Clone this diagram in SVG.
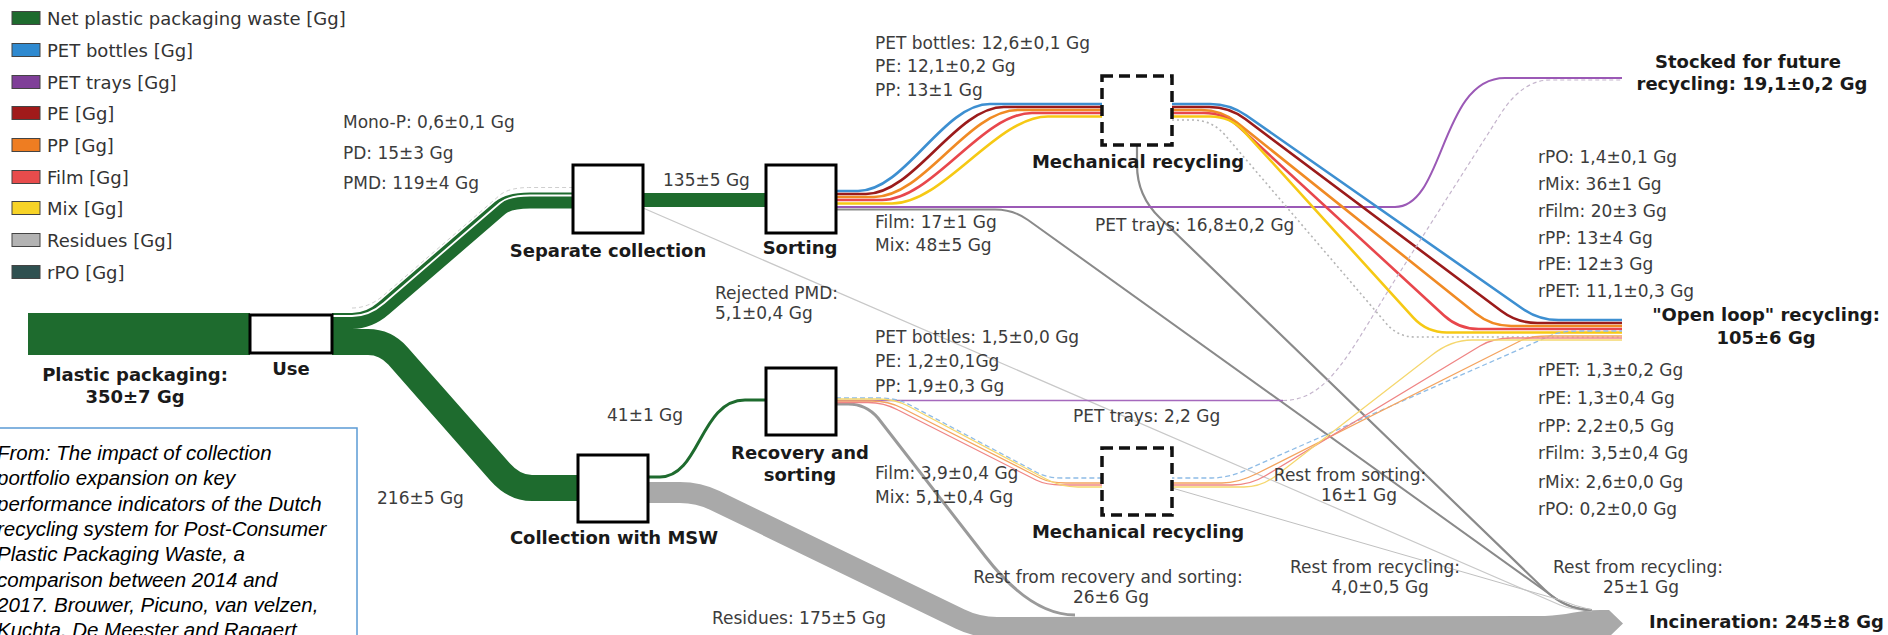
<svg xmlns="http://www.w3.org/2000/svg" width="1888" height="635" viewBox="0 0 1888 635">
<defs>
<style>
text{font-family:"DejaVu Sans",Verdana,"Liberation Sans",sans-serif}
.leg{font-size:18px;fill:#333}
.lbl{font-size:17px;fill:#3c3c3c}
.m{text-anchor:middle}
.b{font-size:18px;font-weight:bold;fill:#1a1a1a;text-anchor:middle}
.cite{font-family:"Liberation Sans",Arial,sans-serif;font-size:20.5px;font-style:italic;fill:#000}
.box{fill:#fff;stroke:#000;stroke-width:3}
.dbox{fill:#fff;stroke:#111;stroke-width:3.5;stroke-dasharray:11 6}
.sw{stroke:#444;stroke-width:1}
.f{fill:none;stroke-linecap:butt}
.gr{stroke:#1e6b2e}
.c{fill:none;stroke-width:2.6}
.rest{fill:none;stroke:#8a8a8a}
.pale{fill:none;stroke-width:1.3}
</style>
</defs>

<g id="legend">
<rect class="sw" x="12" y="11.5" width="28" height="13" fill="#1e6b2e"/><text class="leg" x="47" y="24.5">Net plastic packaging waste [Gg]</text>
<rect class="sw" x="12" y="43.5" width="28" height="13" fill="#2f8ad0"/><text class="leg" x="47" y="56.5">PET bottles [Gg]</text>
<rect class="sw" x="12" y="75.5" width="28" height="13" fill="#7f3f98"/><text class="leg" x="47" y="88.5">PET trays [Gg]</text>
<rect class="sw" x="12" y="106.5" width="28" height="13" fill="#a11a1a"/><text class="leg" x="47" y="119.5">PE [Gg]</text>
<rect class="sw" x="12" y="138.5" width="28" height="13" fill="#ee7d22"/><text class="leg" x="47" y="151.5">PP [Gg]</text>
<rect class="sw" x="12" y="170.5" width="28" height="13" fill="#e84c4c"/><text class="leg" x="47" y="183.5">Film [Gg]</text>
<rect class="sw" x="12" y="201.5" width="28" height="13" fill="#f7d327"/><text class="leg" x="47" y="214.5">Mix [Gg]</text>
<rect class="sw" x="12" y="233.5" width="28" height="13" fill="#b3b3b3"/><text class="leg" x="47" y="246.5">Residues [Gg]</text>
<rect class="sw" x="12" y="265.5" width="28" height="13" fill="#2f5050"/><text class="leg" x="47" y="278.5">rPO [Gg]</text>
</g>

<g id="connectors">
<!-- residues and incineration -->
<path class="f" stroke="#a9a9a9" stroke-width="21" d="M 648 492.5 L 680 492.5 Q 698.5 492.5 715 500.5 L 960 619 Q 977.5 627.5 997 627.5 L 1100 627.5"/>
<path fill="#a9a9a9" d="M 990 617 L 1545 616 C 1565 615.5 1580 610 1600 610 L 1609 610 L 1623 623.5 L 1609 637 L 990 638 Z"/>
<!-- green flows -->
<path fill="#1e6b2e" d="M 28 313 H 250 V 355 H 28 Z"/>
<path class="f gr" stroke-width="16" d="M 332 321 L 352 321 Q 369 321 384 308 L 500 208 Q 509 200.5 530 200.5 L 573 200.5"/>
<path class="f" stroke="#fff" stroke-width="1.8" d="M 332 316 L 352 316 Q 369 316 384 303 L 500 203 Q 509 195.5 530 195.5 L 573 195.5"/>
<path class="f" stroke="#cfcfcf" stroke-width="1" stroke-dasharray="4 3" d="M 352 308 Q 369 308 384 295 L 500 195 Q 509 187.5 530 187.5 L 573 187.5"/>
<path class="f gr" stroke-width="26" d="M 332 342 L 368 342 Q 385.6 342 398 356 L 500 471.8 Q 514.3 488 532 488 L 578 488"/>
<path class="f gr" stroke-width="14" d="M 643 200 H 766"/>
<path class="f gr" stroke-width="3" d="M 648 477 L 660 477 C 700 477 700 400 745 400 L 766 400"/>
<!-- rest flows to incineration -->
<path class="f" stroke="#c8c8c8" stroke-width="1.2" d="M 643 208 L 1560 605 Q 1572 610 1592 611"/>
<path class="rest" stroke-width="2" d="M 836 209.5 L 995 209.5 Q 1013.4 209.5 1028 220 L 1555 598 Q 1570 609 1592 610"/>
<path class="rest" stroke-width="2.2" d="M 1137 145 L 1137 165 Q 1137 196 1160 218 L 1545 590 Q 1565.7 610 1592 610"/>
<path class="f" stroke="#c0c0c0" stroke-width="1" d="M 1172 488 L 1560 600 Q 1575 606 1592 610"/>
<path class="f" stroke="#9a9a9a" stroke-width="3" d="M 836 404 L 848 404 Q 866 404 878 418 L 985 556 Q 1030.7 615 1075 615"/>
<!-- sorting output to upper mechanical recycling and open loop -->
<path class="f" stroke="#9b59b6" stroke-width="2" d="M 836 207 L 1395 207 C 1445 207 1440 78 1505 78 L 1622 78"/>
<path class="c" stroke="#3d8fd1" d="M 836 191 L 858 191 C 905 191 943 104 990 104 L 1210 104 Q 1230 104 1246.4 115.5 L 1522.2 308.5 Q 1538.6 320 1558.6 320 L 1622 320"/>
<path class="c" stroke="#9b1b1b" d="M 836 194 L 866 194 C 914 194 956 107 1004 107 L 1209.3 107 Q 1229.3 107 1245.3 119 L 1501.3 311 Q 1517.3 323 1537.3 323 L 1622 323"/>
<path class="c" stroke="#f08a24" d="M 836 197 L 874 197 C 924 197 968 110 1018 110 L 1201.3 110 Q 1221.3 110 1236.9 122.5 L 1475.7 313.5 Q 1491.3 326 1511.3 326 L 1622 326"/>
<path class="c" stroke="#e8474c" d="M 836 200 L 882 200 C 932 200 982 113 1032 113 L 1203.9 113 Q 1223.9 113 1238.6 126.5 L 1444 315.5 Q 1458.7 329 1478.7 329 L 1622 329"/>
<path class="c" stroke="#f6c914" stroke-width="4.5" d="M 836 203.5 L 892 203.5 C 944 203.5 996 116.5 1048 116.5 L 1210.5 116.5 Q 1230.5 116.5 1244 131.3 L 1413.3 317.7 Q 1426.8 332.5 1446.8 332.5 L 1622 332.5"/>
<path class="f" stroke="#b5b5b5" stroke-width="1.6" stroke-dasharray="2 3" d="M 1172 120 L 1192 120 Q 1212 120 1225 135 L 1385 322 Q 1397 337 1415 337 L 1622 337"/>
<!-- recovery output -->
<path class="f" stroke="#a569bd" stroke-width="1.5" d="M 836 400.5 L 1283 400.5"/>
<path class="f" stroke="#c4b4cc" stroke-width="1.2" stroke-dasharray="4 3" d="M 1283 400.5 C 1330 400.5 1350 350 1400 272 L 1500 115 Q 1522 80 1550 80 L 1622 80"/>
<path class="pale" stroke="#8fbce6" stroke-dasharray="5 3" d="M 836 398 L 880 398 Q 896.8 398 910 405 L 1036 472 Q 1047 478 1062 478 L 1212 478 Q 1228 478 1246 470 L 1552 335 Q 1561 331 1580 331 L 1622 331"/>
<path class="pale" stroke="#f4a460" stroke-width="1.5" d="M 836 401 L 872 401 Q 888.2 401 902 408 L 1040 478 Q 1050 483 1066 483 L 1222 483 Q 1238 483 1256 474 L 1520 341 Q 1530 336 1548 336 L 1622 336"/>
<path class="pale" stroke="#ef8585" d="M 836 402.5 L 868 402.5 Q 884 402.5 898 410 L 1036 480 Q 1046 485 1062 485 L 1232 485 Q 1250 485 1265 476 L 1480 346 Q 1493 338 1512 338 L 1622 338"/>
<path class="pale" stroke="#f5d76e" stroke-width="1.5" d="M 836 399 L 878 399 Q 895 399 908 406 L 1046 479 Q 1061 487 1078 487 L 1244 487 Q 1261.5 487 1277 475 L 1432 355 Q 1451 340 1472 340 L 1622 340"/>
</g>

<g id="node-use">
<rect class="box" x="250" y="315" width="82" height="38"/>
<text class="b" x="291" y="375">Use</text>
</g>
<g id="node-input">
<text class="b" x="135" y="381">Plastic packaging:</text>
<text class="b" x="135" y="403">350±7 Gg</text>
</g>
<g id="node-separate-collection">
<rect class="box" x="573" y="165" width="70" height="68"/>
<text class="b" x="608" y="257">Separate collection</text>
</g>
<g id="node-sorting">
<rect class="box" x="766" y="165" width="70" height="68"/>
<text class="b" x="800" y="254">Sorting</text>
</g>
<g id="node-collection-msw">
<rect class="box" x="578" y="455" width="70" height="67"/>
<text class="b" x="614" y="544">Collection with MSW</text>
</g>
<g id="node-recovery">
<rect class="box" x="766" y="368" width="70" height="67"/>
<text class="b" x="800" y="459">Recovery and</text>
<text class="b" x="800" y="481">sorting</text>
</g>
<g id="node-mech-upper">
<rect class="dbox" x="1102" y="76" width="70" height="69"/>
<text class="b" x="1138" y="168">Mechanical recycling</text>
</g>
<g id="node-mech-lower">
<rect class="dbox" x="1102" y="448" width="70" height="67"/>
<text class="b" x="1138" y="538">Mechanical recycling</text>
</g>
<g id="node-stocked">
<text class="b" x="1748" y="68">Stocked for future</text>
<text class="b" x="1752" y="90">recycling: 19,1±0,2 Gg</text>
</g>
<g id="node-open-loop">
<text class="b" x="1766" y="321">"Open loop" recycling:</text>
<text class="b" x="1766" y="344">105±6 Gg</text>
</g>
<g id="node-incineration">
<text class="b" x="1649" y="628" style="text-anchor:start">Incineration: 245±8 Gg</text>
</g>

<g id="flow-labels">
<text class="lbl" x="343" y="128">Mono-P: 0,6±0,1 Gg</text>
<text class="lbl" x="343" y="159">PD: 15±3 Gg</text>
<text class="lbl" x="343" y="189">PMD: 119±4 Gg</text>
<text class="lbl" x="663" y="186">135±5 Gg</text>
<text class="lbl" x="715" y="299">Rejected PMD:</text>
<text class="lbl" x="715" y="319">5,1±0,4 Gg</text>
<text class="lbl" x="607" y="421">41±1 Gg</text>
<text class="lbl" x="377" y="504">216±5 Gg</text>
<text class="lbl" x="712" y="624">Residues: 175±5 Gg</text>
<text class="lbl" x="875" y="49">PET bottles: 12,6±0,1 Gg</text>
<text class="lbl" x="875" y="72">PE: 12,1±0,2 Gg</text>
<text class="lbl" x="875" y="96">PP: 13±1 Gg</text>
<text class="lbl" x="875" y="228">Film: 17±1 Gg</text>
<text class="lbl" x="875" y="251">Mix: 48±5 Gg</text>
<text class="lbl" x="1095" y="231">PET trays: 16,8±0,2 Gg</text>
<text class="lbl" x="875" y="343">PET bottles: 1,5±0,0 Gg</text>
<text class="lbl" x="875" y="367">PE: 1,2±0,1Gg</text>
<text class="lbl" x="875" y="392">PP: 1,9±0,3 Gg</text>
<text class="lbl" x="1073" y="422">PET trays: 2,2 Gg</text>
<text class="lbl" x="875" y="479">Film: 3,9±0,4 Gg</text>
<text class="lbl" x="875" y="503">Mix: 5,1±0,4 Gg</text>
<text class="lbl m" x="1108" y="583">Rest from recovery and sorting:</text>
<text class="lbl m" x="1111" y="603">26±6 Gg</text>
<text class="lbl m" x="1350" y="481">Rest from sorting:</text>
<text class="lbl m" x="1359" y="501">16±1 Gg</text>
<text class="lbl m" x="1375" y="573">Rest from recycling:</text>
<text class="lbl m" x="1380" y="593">4,0±0,5 Gg</text>
<text class="lbl m" x="1638" y="573">Rest from recycling:</text>
<text class="lbl m" x="1641" y="593">25±1 Gg</text>
<text class="lbl" x="1538" y="163">rPO: 1,4±0,1 Gg</text>
<text class="lbl" x="1538" y="190">rMix: 36±1 Gg</text>
<text class="lbl" x="1538" y="217">rFilm: 20±3 Gg</text>
<text class="lbl" x="1538" y="244">rPP: 13±4 Gg</text>
<text class="lbl" x="1538" y="270">rPE: 12±3 Gg</text>
<text class="lbl" x="1538" y="297">rPET: 11,1±0,3 Gg</text>
<text class="lbl" x="1538" y="376">rPET: 1,3±0,2 Gg</text>
<text class="lbl" x="1538" y="404">rPE: 1,3±0,4 Gg</text>
<text class="lbl" x="1538" y="432">rPP: 2,2±0,5 Gg</text>
<text class="lbl" x="1538" y="459">rFilm: 3,5±0,4 Gg</text>
<text class="lbl" x="1538" y="488">rMix: 2,6±0,0 Gg</text>
<text class="lbl" x="1538" y="515">rPO: 0,2±0,0 Gg</text>
</g>

<g id="citation">
<rect x="-2" y="428" width="359" height="215" fill="#fff" stroke="#5b9bd5" stroke-width="1.5"/>
<text class="cite" x="-3" y="460">From: The impact of collection</text>
<text class="cite" x="-3" y="485.3">portfolio expansion on key</text>
<text class="cite" x="-3" y="510.6">performance indicators of the Dutch</text>
<text class="cite" x="-3" y="535.9">recycling system for Post-Consumer</text>
<text class="cite" x="-3" y="561.2">Plastic Packaging Waste, a</text>
<text class="cite" x="-3" y="586.5">comparison between 2014 and</text>
<text class="cite" x="-3" y="611.8">2017. Brouwer, Picuno, van velzen,</text>
<text class="cite" x="-3" y="637.1">Kuchta, De Meester and Ragaert</text>
</g>
</svg>
